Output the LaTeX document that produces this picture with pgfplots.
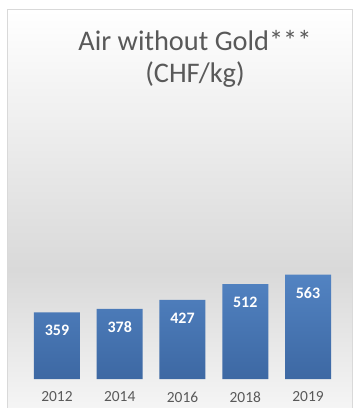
\documentclass[border=0pt]{standalone}
\usepackage{pgfplots}
\pgfplotsset{compat=1.18}
\usepackage{fontspec}
\setmainfont{Carlito}
\usetikzlibrary{shadings}
\definecolor{txtgray}{HTML}{595959}
\definecolor{bgray}{HTML}{D9D9D9}
\definecolor{bartop}{HTML}{5283C2}
\definecolor{barbot}{HTML}{3D68A3}
\begin{document}
\begin{tikzpicture}[x=1bp,y=1bp]
\useasboundingbox (0,0) rectangle (353,408);
% background
\shade[top color=white, bottom color=bgray] (7,138) rectangle (352,398);
\shade[top color=bgray, bottom color=white!96!black] (7,0) rectangle (352,138);
\draw[bgray, line width=1bp] (7,-2) -- (7,398) -- (352,398) -- (352,-2);
% title
\node[txtgray, font=\fontsize{28.5}{32}\selectfont, anchor=base] at (195,358) {Air without Gold***};
\node[txtgray, font=\fontsize{28.5}{32}\selectfont, anchor=base] at (195,326) {(CHF/kg)};
\begin{axis}[
  at={(0,0)}, anchor=south west,
  scale only axis, width=353bp, height=214.3bp,
  xmin=-0.908, xmax=4.717, ymin=-156.5, ymax=1000,
  axis line style={draw=none},
  major tick length=0pt,
  ytick=\empty,
  xtick={0,1,2,3,4},
  xticklabels={2012,2014,2016,2018,2019},
  xticklabel style={anchor=center, yshift=11bp, text=txtgray, font=\fontsize{15.5}{17}\selectfont},
  xticklabel shift={0pt},
  ybar, bar width=46bp,
  clip=false,
  point meta=explicit symbolic,
  nodes near coords,
  every node near coord/.append style={anchor=center, yshift=-18bp, text=white, font=\fontsize{16}{18}\selectfont\bfseries},
]
\addplot[draw=none, top color=bartop, bottom color=barbot] table[meta=label] {
x y label
0 359 359
1 378 378
2 427 427
3 512 512
4 563 563
};
\end{axis}
\end{tikzpicture}
\end{document}
